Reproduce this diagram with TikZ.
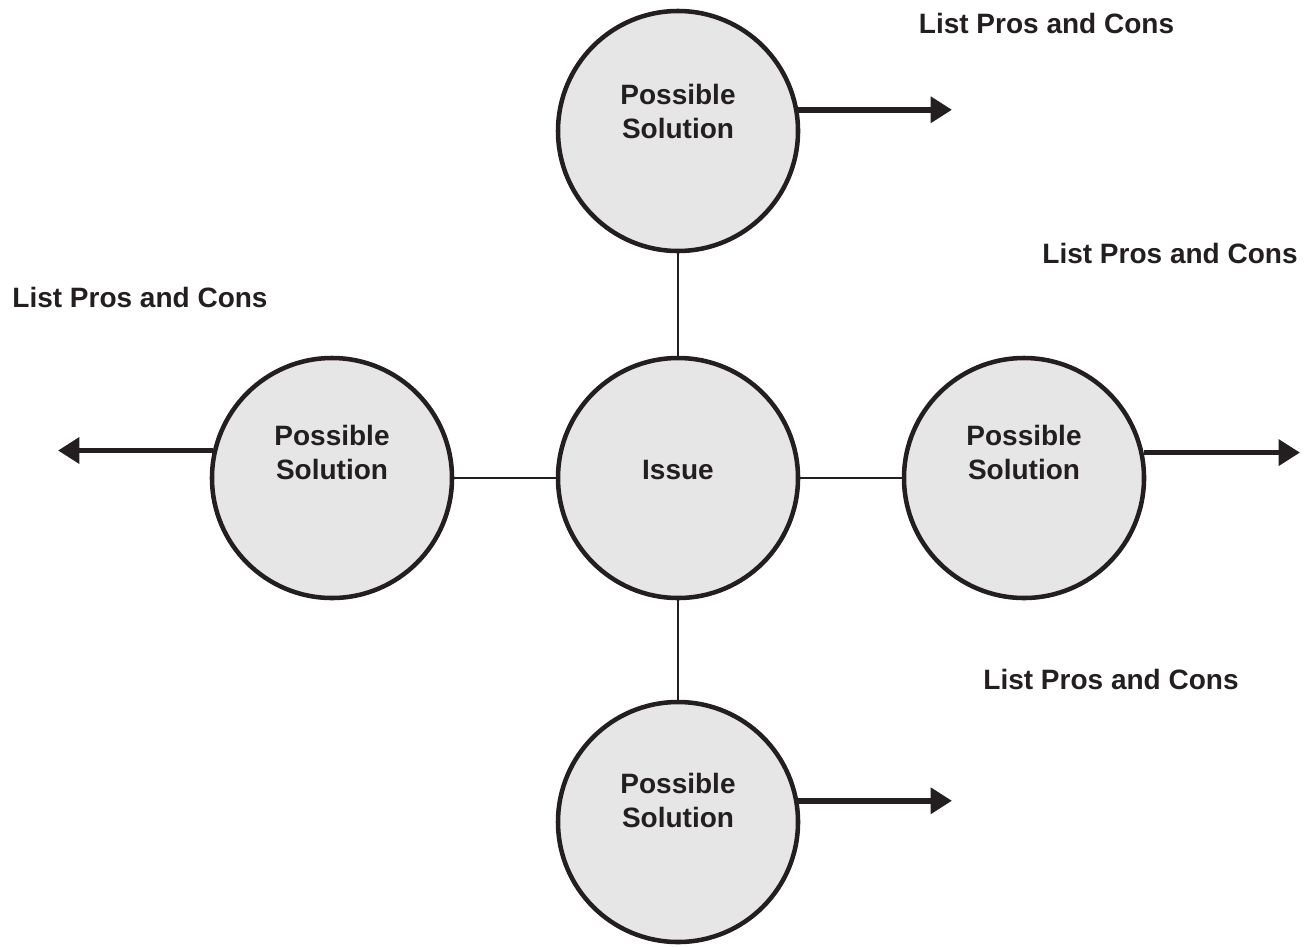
\documentclass[tikz,border=0pt]{standalone}
\usepackage{fontspec}
\setmainfont{Liberation Sans}
\usetikzlibrary{arrows.meta}
\definecolor{ink}{RGB}{35,31,32}
\definecolor{disc}{RGB}{230,230,230}
\tikzset{
  sol/.style={circle, draw=ink, fill=disc, line width=3.4pt, minimum size=180pt, inner sep=0pt},
  soltext/.style={text=ink, align=center, font=\fontsize{21pt}{25.5pt}\selectfont\bfseries},
  prolabel/.style={text=ink, anchor=base, inner sep=0pt, font=\fontsize{21pt}{25.5pt}\selectfont\bfseries},
  link/.style={draw=ink, line width=1.5pt},
  outarrow/.style={draw=ink, line width=4.2pt, -{Triangle[length=16pt,width=19pt]}}
}
\begin{document}
\begin{tikzpicture}[x=0.75pt,y=-0.75pt]
\useasboundingbox (0,0) rectangle (1312,946);
% circles
\node[sol, label={[soltext,yshift=15pt]center:Possible\\Solution}] (T) at (678,131) {};
\node[sol, label={[soltext,yshift=6pt]center:Issue}] (C) at (678,478) {};
\node[sol, label={[soltext,yshift=19pt]center:Possible\\Solution}] (L) at (332,478) {};
\node[sol, label={[soltext,yshift=19pt]center:Possible\\Solution}] (R) at (1024,478) {};
\node[sol, label={[soltext,yshift=16.5pt]center:Possible\\Solution}] (B) at (678,822) {};
% links
\draw[link] (T) -- (C);
\draw[link] (L) -- (C);
\draw[link] (C) -- (R);
\draw[link] (C) -- (B);
% arrow ends
\coordinate (Tend) at (952,110);
\coordinate (Lend) at (58,452);
\coordinate (Rend) at (1300,452);
\coordinate (Bend) at (952,800);
\draw[outarrow] (T.10) -- (T.10 -| Tend);
\draw[outarrow] (L.167.5) -- (L.167.5 -| Lend);
\draw[outarrow] (R.12.5) -- (R.12.5 -| Rend);
\draw[outarrow] (B.10.6) -- (B.10.6 -| Bend);
% labels
\node[prolabel] (lt) at (1046.5,33) {List Pros and Cons};
\node[prolabel] (lr) at (1170,263) {List Pros and Cons};
\node[prolabel] (ll) at (140,307) {List Pros and Cons};
\node[prolabel] (lb) at (1111,689) {List Pros and Cons};
\end{tikzpicture}
\end{document}
